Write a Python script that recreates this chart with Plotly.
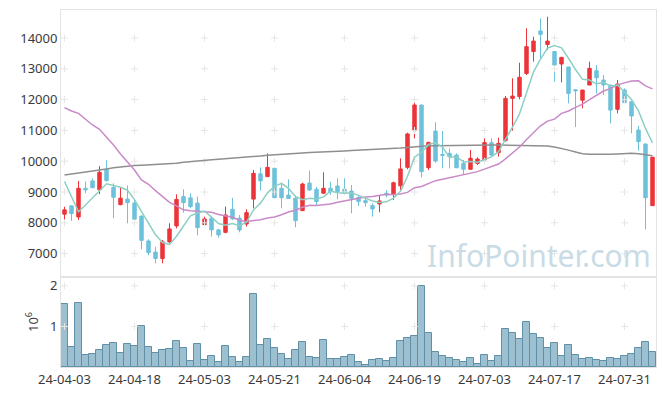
import plotly.graph_objects as go

dates = [
    "2024-04-03", "2024-04-04", "2024-04-05", "2024-04-08", "2024-04-09", "2024-04-11", "2024-04-12",
    "2024-04-15", "2024-04-16", "2024-04-17", "2024-04-18", "2024-04-19", "2024-04-22", "2024-04-23",
    "2024-04-24", "2024-04-25", "2024-04-26", "2024-04-29", "2024-04-30", "2024-05-02", "2024-05-03",
    "2024-05-07", "2024-05-08", "2024-05-09", "2024-05-10", "2024-05-13", "2024-05-14", "2024-05-16",
    "2024-05-17", "2024-05-20", "2024-05-21", "2024-05-22", "2024-05-23", "2024-05-24", "2024-05-27",
    "2024-05-28", "2024-05-29", "2024-05-30", "2024-05-31", "2024-06-03", "2024-06-04", "2024-06-05",
    "2024-06-07", "2024-06-10", "2024-06-11", "2024-06-12", "2024-06-13", "2024-06-14", "2024-06-17",
    "2024-06-18", "2024-06-19", "2024-06-20", "2024-06-21", "2024-06-24", "2024-06-25", "2024-06-26",
    "2024-06-27", "2024-06-28", "2024-07-01", "2024-07-02", "2024-07-03", "2024-07-04", "2024-07-05",
    "2024-07-08", "2024-07-09", "2024-07-10", "2024-07-11", "2024-07-12", "2024-07-15", "2024-07-16",
    "2024-07-17", "2024-07-18", "2024-07-19", "2024-07-22", "2024-07-23", "2024-07-24", "2024-07-25",
    "2024-07-26", "2024-07-29", "2024-07-30", "2024-07-31", "2024-08-01", "2024-08-02", "2024-08-05",
    "2024-08-06",
]

open_ = [
    8280, 8550, 8190, 9120, 9360, 9070, 9740, 9150, 8590, 8770,
    8640, 8220, 7410, 7050, 6840, 7380, 7900, 8850, 8810, 8640,
    7940, 8150, 7770, 7690, 8440, 8150, 7960, 8770, 9590, 9500,
    9770, 9120, 8900, 8800, 8395, 9290, 9090, 8960, 9120, 9195,
    9090, 9030, 8820, 8720, 8560, 8610, 8960, 8940, 9200, 9800,
    10990, 11825, 9790, 10980, 10220, 10256, 10200, 9930, 9740, 9930,
    10040, 10600, 10280, 10670, 12040, 12100, 12850, 13560, 14230, 13790,
    13560, 13156, 13060, 12320, 11980, 12474, 12939, 12636, 12474, 11684,
    12312, 11933, 11013, 10559, 8557,
]
high = [
    8520, 8560, 9360, 9340, 9440, 9840, 10030, 9280, 9150, 9210,
    8740, 8230, 7465, 7216, 7443, 7984, 8925, 9088, 8958, 8850,
    8200, 8222, 7800, 8525, 8810, 8254, 8440, 9715, 9800, 10250,
    9780, 9304, 9412, 8882, 9300, 9693, 9174, 9639, 9336, 9444,
    9444, 9228, 8903, 8849, 8630, 8904, 9060, 9336, 10094, 10927,
    12009, 11830, 10635, 11262, 10981, 10418, 10256, 10040, 10364, 10126,
    10743, 10743, 10765, 12117, 12691, 13199, 14314, 14043, 14638, 14692,
    13570, 13394, 13070, 12330, 12320, 13231, 13123, 12799, 12480, 12636,
    12366, 11940, 11143, 10565, 10135,
]
low = [
    7920, 8060, 8090, 8960, 9120, 8930, 9340, 8146, 8568, 7984,
    7898, 7140, 6946, 6686, 6686, 7335, 7822, 8330, 8471, 7595,
    7898, 7551, 7519, 7659, 8090, 7692, 7876, 8471, 9045, 9499,
    8810, 8470, 8773, 7854, 8390, 9044, 8546, 8957, 8903, 8762,
    8936, 8308, 8546, 8524, 8200, 8341, 8830, 8742, 9066, 9737,
    10743, 9477, 9715, 9953, 9770, 9769, 9769, 9574, 9715, 9877,
    10000, 10148, 10148, 10635, 10992, 12009, 12799, 13232, 13286, 13610,
    12583, 12561, 11879, 11110, 11720, 12470, 12203, 12149, 11230, 11554,
    11895, 10905, 10342, 7789, 8550,
]
close = [
    8420, 8300, 9120, 9070, 9140, 9640, 9370, 8830, 8800, 8655,
    8115, 7430, 7030, 6840, 7380, 7800, 8760, 8655, 8525, 7845,
    8125, 7770, 7605, 8255, 8125, 7770, 8330, 9605, 9360, 9800,
    8815, 8815, 8790, 8070, 9260, 9065, 8690, 9120, 9010, 9010,
    8960, 8795, 8690, 8655, 8450, 8710, 8900, 9300, 9750, 10885,
    11825, 9660, 10610, 10005, 10190, 10150, 9790, 9740, 10095, 10070,
    10605, 10200, 10580, 12040, 12115, 12725, 13720, 13900, 14120, 13900,
    13125, 13370, 12200, 12290, 12310, 13015, 12710, 12475, 11660, 12505,
    11900, 11470, 10635, 8815, 10130,
]
ma5 = [
    9340, 8850, 8360, 8580, 8810, 9054, 9268, 9210, 9156, 9059,
    8754, 8366, 8006, 7614, 7359, 7296, 7562, 7887, 8224, 8317,
    8382, 8184, 7974, 7920, 7976, 7905, 8017, 8417, 8638, 8973,
    9182, 9279, 9116, 8858, 8750, 8800, 8775, 8841, 9029, 8979,
    8958, 8979, 8893, 8822, 8710, 8660, 8681, 8803, 9022, 9509,
    10132, 10284, 10546, 10597, 10458, 10123, 10149, 9975, 9993, 9969,
    10060, 10142, 10310, 10699, 11108, 11532, 12236, 12900, 13316, 13673,
    13753, 13683, 13343, 12977, 12659, 12637, 12505, 12560, 12434, 12473,
    12250, 12002, 11634, 11065, 10590,
]
ma20 = [
    11739, 11630, 11555, 11360, 11176, 11035, 10797, 10527, 10235, 9986,
    9715, 9391, 9250, 9044, 8850, 8666, 8547, 8420, 8395, 8386,
    8372, 8345, 8269, 8229, 8178, 8084, 8032, 8071, 8099, 8156,
    8191, 8261, 8349, 8410, 8504, 8567, 8564, 8587, 8611, 8670,
    8711, 8763, 8817, 8837, 8853, 8900, 8929, 8913, 8933, 8987,
    9138, 9180, 9271, 9368, 9414, 9468, 9523, 9554, 9609, 9662,
    9744, 9814, 9909, 10078, 10261, 10462, 10703, 10933, 11151, 11302,
    11367, 11553, 11632, 11746, 11852, 11996, 12142, 12278, 12357, 12478,
    12543, 12607, 12609, 12448, 12349,
]
ma120 = [
    9550, 9580, 9610, 9640, 9670, 9710, 9750, 9790, 9820, 9845,
    9860, 9870, 9880, 9885, 9900, 9915, 9930, 9965, 9990, 10010,
    10030, 10045, 10060, 10075, 10095, 10110, 10130, 10150, 10170, 10195,
    10215, 10230, 10245, 10260, 10270, 10280, 10295, 10305, 10315, 10325,
    10335, 10345, 10355, 10365, 10375, 10380, 10390, 10405, 10425, 10445,
    10470, 10490, 10500, 10505, 10510, 10515, 10520, 10522, 10525, 10526,
    10526, 10525, 10523, 10520, 10518, 10515, 10512, 10510, 10505, 10490,
    10460, 10420, 10360, 10300, 10240, 10225, 10220, 10222, 10225, 10235,
    10250, 10255, 10245, 10220, 10180,
]
volume = [
    1548000, 486000, 1572000, 288000, 313000, 412000, 535000, 584000, 346000, 560000,
    510000, 1004000, 486000, 346000, 412000, 436000, 634000, 461000, 140000, 560000,
    165000, 263000, 115000, 510000, 239000, 115000, 239000, 1794000, 535000, 683000,
    461000, 313000, 189000, 412000, 609000, 239000, 214000, 658000, 189000, 189000,
    239000, 288000, 115000, 41000, 165000, 189000, 140000, 214000, 634000, 708000,
    757000, 1992000, 831000, 362000, 263000, 214000, 165000, 115000, 214000, 66000,
    288000, 140000, 263000, 930000, 831000, 683000, 1103000, 807000, 708000, 461000,
    584000, 263000, 535000, 288000, 189000, 214000, 165000, 140000, 214000, 189000,
    263000, 313000, 461000, 609000, 362000,
]

price_ticks = [7000, 8000, 9000, 10000, 11000, 12000, 13000, 14000]
vol_ticks = [1000000, 2000000]
vol_tick_labels = ["1", "2"]
x_tick_idx = list(range(0, len(dates), 10))
x_tick_vals = [dates[i] for i in x_tick_idx]
x_tick_text = [d[2:] for d in x_tick_vals]

RED = "#ec3439"
BLUE = "#6ec1da"
GRID = "#e6e6e6"
FONT = dict(family="Noto Sans", size=13, color="#3a3a3a")

fig = go.Figure()

fig.add_trace(go.Candlestick(
    x=dates, open=open_, high=high, low=low, close=close,
    increasing=dict(line=dict(color=RED, width=1), fillcolor=RED),
    decreasing=dict(line=dict(color=BLUE, width=1), fillcolor=BLUE),
    whiskerwidth=0, xaxis="x", yaxis="y", showlegend=False, name="price"))

fig.add_trace(go.Bar(x=dates, y=volume, xaxis="x2", yaxis="y2",
                     marker=dict(color="#9dc0d1", line=dict(color="#5f90a8", width=1)),
                     showlegend=False, name="volume"))

# grid crosses (the reference draws small "+" marks at grid intersections)
cx, cy = [], []
for xv in x_tick_vals:
    for yv in price_ticks:
        cx.append(xv)
        cy.append(yv)
fig.add_trace(go.Scatter(x=cx, y=cy, mode="markers", xaxis="x", yaxis="y",
                         marker=dict(symbol="cross-thin", size=5, line=dict(width=1, color=GRID)),
                         hoverinfo="skip", showlegend=False))
vx, vy = [], []
for xv in x_tick_vals:
    for yv in vol_ticks:
        vx.append(xv)
        vy.append(yv)
fig.add_trace(go.Scatter(x=vx, y=vy, mode="markers", xaxis="x2", yaxis="y2",
                         marker=dict(symbol="cross-thin", size=5, line=dict(width=1, color=GRID)),
                         hoverinfo="skip", showlegend=False))

fig.add_trace(go.Scatter(x=dates, y=ma120, mode="lines", line=dict(color="#8f8f8f", width=1.5),
                         xaxis="x", yaxis="y", showlegend=False, name="MA120"))
fig.add_trace(go.Scatter(x=dates, y=ma20, mode="lines", line=dict(color="#c98ac7", width=1.5),
                         xaxis="x", yaxis="y", showlegend=False, name="MA20"))
fig.add_trace(go.Scatter(x=dates, y=ma5, mode="lines", line=dict(color="#8ecfc4", width=1.5),
                         xaxis="x", yaxis="y", showlegend=False, name="MA5"))

split = 90 / 357

fig.update_layout(
    width=665, height=396,
    margin=dict(l=61, r=9, t=10, b=29, autoexpand=False),
    paper_bgcolor="white", plot_bgcolor="white",
    font=FONT,
    bargap=0,
    showlegend=False,
    xaxis=dict(type="category", categoryorder="array", categoryarray=dates, automargin=False,
               domain=[0, 1], anchor="y", range=[-0.5, len(dates) - 0.5],
               showticklabels=False, showgrid=False, zeroline=False,
               showline=True, mirror=True, linecolor="#e3e3e3", linewidth=1,
               rangeslider=dict(visible=False), fixedrange=True),
    xaxis2=dict(type="category", categoryorder="array", categoryarray=dates, automargin=False,
                domain=[0, 1], anchor="y2", range=[-0.5, len(dates) - 0.5],
                tickvals=x_tick_vals, ticktext=x_tick_text, tickangle=0,
                showgrid=False, zeroline=False, ticks="",
                showline=True, mirror=True, linecolor="#e3e3e3", linewidth=1),
    yaxis=dict(domain=[split, 1], anchor="x", range=[6240, 14910], automargin=False,
               tickvals=price_ticks, tickformat="d", showgrid=False, zeroline=False, ticks="",
               showline=True, mirror=True, linecolor="#e3e3e3", linewidth=1),
    yaxis2=dict(domain=[0, split], anchor="x2", range=[0, 2220000], automargin=False,
                tickvals=vol_ticks, ticktext=vol_tick_labels, showgrid=False, zeroline=False, ticks="",
                showline=True, mirror=True, linecolor="#e3e3e3", linewidth=1,
                title=dict(text="10<sup>6</sup>", standoff=8, font=dict(size=13))),
    annotations=[dict(text="InfoPointer.com", xref="paper", yref="paper",
                      x=0.803, y=0.311, xanchor="center", yanchor="middle",
                      showarrow=False,
                      font=dict(family="Noto Sans", size=30, color="#c9dbe5"))],
)

fig.write_html("out.html", config={"displayModeBar": False},
               post_script="document.body.style.margin='0';document.body.style.padding='0';")
